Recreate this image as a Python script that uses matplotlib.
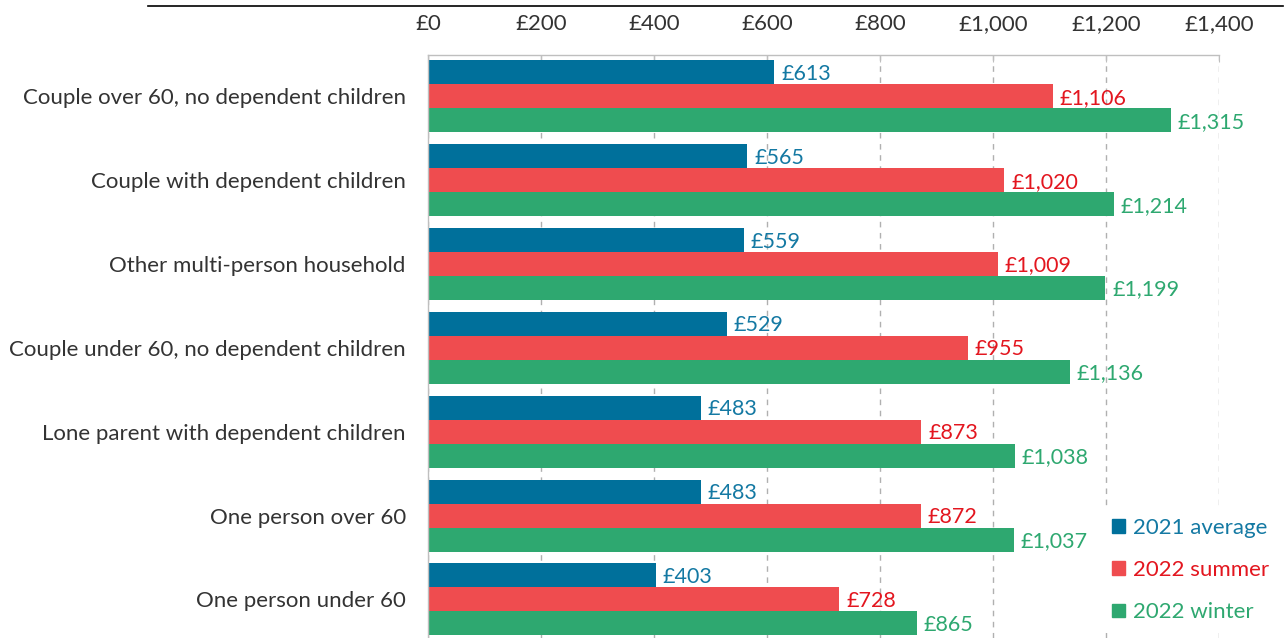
import numpy as np
import matplotlib.pyplot as plt
from matplotlib.lines import Line2D
from matplotlib.patches import Patch
from matplotlib.ticker import FuncFormatter

plt.rcParams['font.family'] = ['Lato', 'DejaVu Sans']

households = [
    "Couple over 60, no dependent children",
    "Couple with dependent children",
    "Other multi-person household",
    "Couple under 60, no dependent children",
    "Lone parent with dependent children",
    "One person over 60",
    "One person under 60",
]
avg_2021 = [613, 565, 559, 529, 483, 483, 403]
summer_2022 = [1106, 1020, 1009, 955, 873, 872, 728]
winter_2022 = [1315, 1214, 1199, 1136, 1038, 1037, 865]

series = [
    ("2021 average", avg_2021, "#00709b", "#1479a3"),
    ("2022 summer", summer_2022, "#ef4c4f", "#e3161f"),
    ("2022 winter", winter_2022, "#2ea870", "#2ea870"),
]

fig = plt.figure(figsize=(12.87, 6.38), dpi=100)
ax = fig.add_axes([0.3326, 0.0, 0.9472 - 0.3326, 0.9138])

y = np.arange(len(households))
h = 0.286

for i, (name, vals, col, tcol) in enumerate(series):
    pos = y + (i - 1) * h
    ax.barh(pos, vals, height=h, color=col, label=name, zorder=2)
    for p, v in zip(pos, vals):
        ax.text(v + 12, p + 0.02, f"£{v:,}", color=tcol, fontsize=15.5,
                va='center', ha='left', zorder=3)

ax.set_xlim(0, 1400)
ax.set_ylim(6.46, -0.49)
ax.set_xticks(range(0, 1401, 200))
ax.xaxis.set_major_formatter(FuncFormatter(lambda x, p: f"£{int(x):,}"))
ax.xaxis.tick_top()
ax.tick_params(axis='x', direction='in', length=5, color='#bfbfbf',
               labelsize=16, labelcolor='#333333', pad=15)
ax.set_yticks(y)
ax.set_yticklabels(households, fontsize=16, color='#333333')
ax.tick_params(axis='y', length=0, pad=16)

ax.grid(axis='x', color='#b0b0b0', linestyle=(0, (4, 4)), linewidth=1, zorder=0)
for s in ['right', 'bottom']:
    ax.spines[s].set_visible(False)
for s in ['top', 'left']:
    ax.spines[s].set_color('#bfbfbf')
    ax.spines[s].set_linewidth(1)

handles = [Patch(color=c) for _, _, c, _ in series]
leg = ax.legend(handles, [s[0] for s in series], loc='lower right',
                bbox_to_anchor=(1.092, -0.011), frameon=True, fontsize=16,
                handlelength=0.55, handleheight=0.55, handletextpad=0.4,
                labelspacing=1.0, borderpad=0.5)
leg.get_frame().set_edgecolor('none')
leg.get_frame().set_facecolor('white')
leg.get_frame().set_alpha(1)
for txt, (_, _, _, tcol) in zip(leg.get_texts(), series):
    txt.set_color(tcol)

fig.add_artist(Line2D([148 / 1287, 1283 / 1287], [1 - 6 / 638, 1 - 6 / 638],
                      color='black', linewidth=1.2))

fig.savefig("out.png", dpi=100)
